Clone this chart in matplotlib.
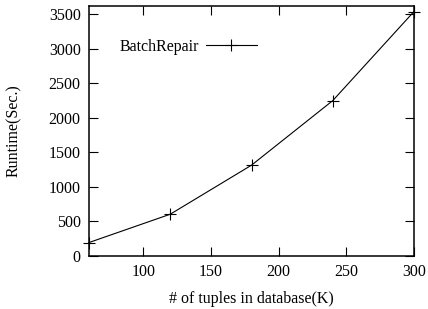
import matplotlib
matplotlib.use("Agg")
import matplotlib.pyplot as plt

plt.rcParams['font.family'] = ['Liberation Serif', 'DejaVu Serif']

tuples_k = [60, 120, 180, 240, 300]
runtime = [195, 605, 1315, 2250, 3540]
x_ticks = [100, 150, 200, 250, 300]
y_ticks = [0, 500, 1000, 1500, 2000, 2500, 3000, 3500]

fig = plt.figure(figsize=(4.28, 3.09), dpi=100)
ax = fig.add_axes([89/428, 53/309, 325/428, 250/309])

ax.plot(tuples_k, runtime, color='black', lw=0.8, marker='+', ms=8, mew=0.8,
        label='BatchRepair', clip_on=False)

ax.set_xlim(60, 300)
ax.set_ylim(0, 3620)
ax.set_xticks(x_ticks)
ax.set_yticks(y_ticks)
ax.tick_params(direction='in', length=6.5, width=0.8, top=True, right=True,
               labelsize=11.5, pad=6)
for s in ax.spines.values():
    s.set_linewidth(1.1)

ax.set_xlabel('# of tuples in database(K)', fontsize=11.5)
ax.set_ylabel('Runtime(Sec.)', fontsize=11.5)
ax.xaxis.set_label_coords(0.5, -0.14)
ax.yaxis.set_label_coords(-0.205, 0.5)

ax.legend(loc='center left', bbox_to_anchor=(0.07, 0.836), frameon=False,
          markerfirst=False, borderpad=0, handlelength=3.2, handletextpad=0.4,
          fontsize=11.5)

fig.savefig('out.png', dpi=100)
